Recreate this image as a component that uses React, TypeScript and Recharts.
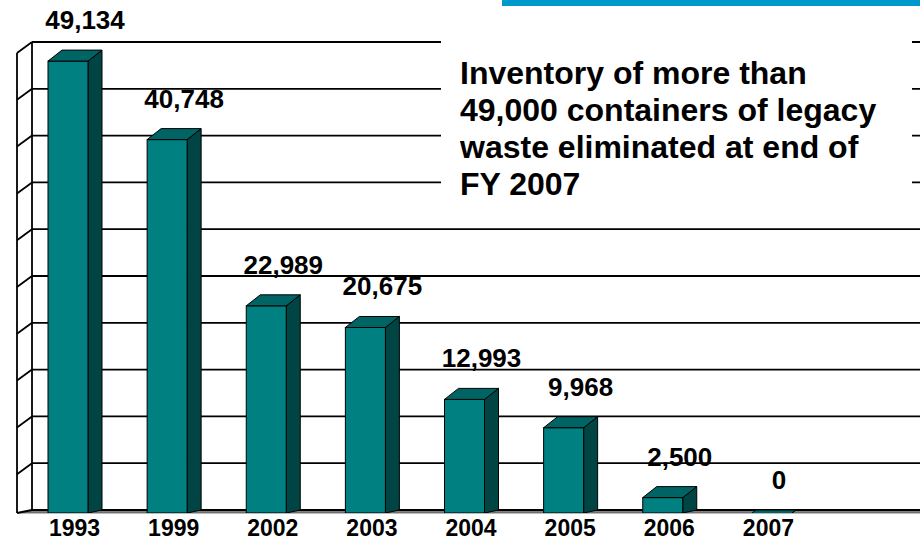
import React from 'react';
import { BarChart, Bar, XAxis, YAxis, CartesianGrid, LabelList } from 'recharts';

// ---- data ----
const years = ['1993', '1999', '2002', '2003', '2004', '2005', '2006', '2007'];
const containers = [49134, 40748, 22989, 20675, 12993, 9968, 2500, 0];
const yTicks = [0, 5000, 10000, 15000, 20000, 25000, 30000, 35000, 40000, 45000, 50000];
const calloutLines = [
  'Inventory of more than',
  '49,000 containers of legacy',
  'waste eliminated at end of',
  'FY 2007',
];

const data = years.map((year, i) => ({ year, value: containers[i] }));

// ---- layout ----
const CHART_W = 924;
const CHART_H = 540;
const XAXIS_H = 30;
const PLOT_TOP = 42;
const PLOT_BOTTOM = CHART_H - XAXIS_H;
const DX = 14;
const DY = 11;
const FLOOR_DY = 3;
const WALL_DX = 15;
const FONT = 'Arial, "Liberation Sans", Helvetica, sans-serif';

const renderGridLine = (p: any) => {
  const { x1, y1, x2 } = p;
  const isFloor = Math.abs(y1 - PLOT_BOTTOM) < 0.6;
  if (isFloor) {
    return (
      <g key={`floor`}>
        <polygon
          points={`${x1 - WALL_DX},${y1 + FLOOR_DY} ${x1},${y1} ${x2},${y1} ${x2},${y1 + FLOOR_DY}`}
          fill="#808080"
          stroke="none"
        />
        <line x1={x1} y1={y1} x2={x2} y2={y1} stroke="#000" strokeWidth={1.8} />
        <line x1={x1 - WALL_DX} y1={y1 + FLOOR_DY} x2={x2} y2={y1 + FLOOR_DY} stroke="#555" strokeWidth={0.8} />
        <line x1={x1 - WALL_DX} y1={y1 + FLOOR_DY} x2={x1} y2={y1} stroke="#000" strokeWidth={1.8} />
        <line x1={x1 - WALL_DX} y1={PLOT_TOP + DY} x2={x1 - WALL_DX} y2={y1 + FLOOR_DY} stroke="#000" strokeWidth={1.8} />
        <line x1={x1} y1={PLOT_TOP} x2={x1} y2={y1} stroke="#000" strokeWidth={1.8} />
      </g>
    );
  }
  return (
    <g key={`grid-${y1}`}>
      <line x1={x1} y1={y1} x2={x2} y2={y1} stroke="#000" strokeWidth={1.8} />
      <line x1={x1 - WALL_DX} y1={y1 + DY} x2={x1} y2={y1} stroke="#000" strokeWidth={1.8} />
    </g>
  );
};

const Bar3D = (props: any) => {
  const { x, y, width, height, index } = props;
  if (x == null || y == null || width == null) return <g />;
  const bottom = y + (height || 0);
  const floorFront = bottom + FLOOR_DY;
  const fx = x - DX;
  const fTop = y + DY;
  const id = `bar3d-clip-${index}`;
  return (
    <g>
      <defs>
        <clipPath id={id}>
          <rect x={fx - 5} y={0} width={width + DX + 10} height={floorFront} />
        </clipPath>
      </defs>
      <g clipPath={`url(#${id})`}>
        <polygon
          points={`${fx + width},${fTop} ${x + width},${y} ${x + width},${bottom} ${fx + width},${floorFront}`}
          fill="#004444"
          stroke="#000"
          strokeWidth={1}
        />
        {fTop < floorFront && (
          <rect x={fx} y={fTop} width={width} height={floorFront - fTop} fill="#008080" stroke="#000" strokeWidth={1} />
        )}
        <polygon
          points={`${fx},${fTop} ${x},${y} ${x + width},${y} ${fx + width},${fTop}`}
          fill="#006464"
          stroke="#000"
          strokeWidth={1}
        />
      </g>
    </g>
  );
};

const renderValueLabel = (p: any) => {
  const vb = p.viewBox || {};
  const x = vb.x ?? p.x;
  const y = vb.y ?? p.y;
  const w = vb.width ?? p.width;
  if (x == null || y == null) return null;
  return (
    <text
      x={x + w / 2 + 3}
      y={y - 21}
      textAnchor="middle"
      fontFamily={FONT}
      fontWeight="bold"
      fontSize={26}
      fill="#000"
    >
      {Number(p.value).toLocaleString('en-US')}
    </text>
  );
};

const renderYearTick = (p: any) => {
  const { x, y, payload } = p;
  return (
    <text
      x={x - 7}
      y={y + 18}
      textAnchor="middle"
      fontFamily={FONT}
      fontWeight="bold"
      fontSize={23}
      fill="#000"
    >
      {payload.value}
    </text>
  );
};

export default function App() {
  return (
    <div
      style={{
        position: 'absolute',
        left: 0,
        top: 0,
        width: 920,
        height: 540,
        overflow: 'hidden',
        background: '#fff',
      }}
    >
      <BarChart
        width={CHART_W}
        height={CHART_H}
        data={data}
        margin={{ top: PLOT_TOP, right: 0, bottom: 0, left: 32 }}
      >
        <CartesianGrid
          horizontal={renderGridLine as any}
          horizontalValues={yTicks}
          vertical={false}
        />
        <XAxis
          dataKey="year"
          height={XAXIS_H}
          axisLine={false}
          tickLine={false}
          interval={0}
          tick={renderYearTick}
          padding={{ left: 0, right: 99 }}
        />
        <YAxis hide domain={[0, 50000]} ticks={yTicks} interval={0} />
        <Bar dataKey="value" barSize={40} shape={<Bar3D />} isAnimationActive={false}>
          <LabelList dataKey="value" content={renderValueLabel} />
        </Bar>
      </BarChart>
      <div
        style={{
          position: 'absolute',
          left: 502,
          top: 0,
          width: 418,
          height: 6,
          background: '#0099CC',
        }}
      />
      <div
        style={{
          position: 'absolute',
          left: 441,
          top: 37,
          width: 471,
          height: 170,
          background: '#fff',
          boxSizing: 'border-box',
          paddingTop: 18,
          paddingLeft: 19,
          fontFamily: FONT,
          fontWeight: 'bold',
          fontSize: 32,
          lineHeight: '37px',
          color: '#000',
          whiteSpace: 'nowrap',
        }}
      >
        {calloutLines.map((line) => (
          <div key={line}>{line}</div>
        ))}
      </div>
    </div>
  );
}
